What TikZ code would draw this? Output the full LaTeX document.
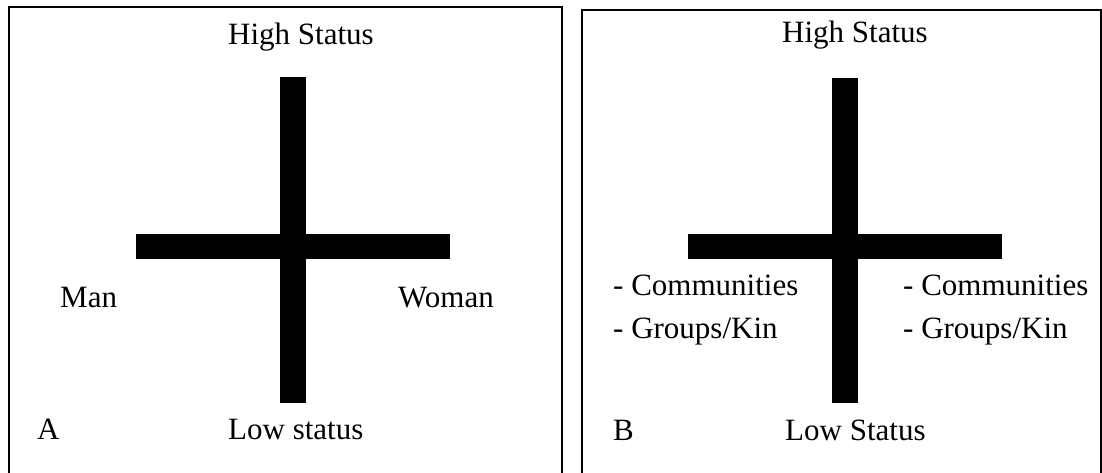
\documentclass[tikz,border=0pt]{standalone}
\usepackage{fontspec}
\setmainfont{Liberation Serif}
\begin{document}
\begin{tikzpicture}[x=1pt,y=-1pt,
  panel/.style={draw=black,line width=2pt},
  bar/.style={fill=black},
  lbl/.style={inner sep=0pt,anchor=base west,font=\fontsize{31}{43}\selectfont},
  lblr/.style={lbl,anchor=base east},
  list/.style={lbl,align=left}]
\useasboundingbox (0,0) rectangle (1102,473);
\clip (0,0) rectangle (1102,473);
\fill[white] (0,0) rectangle (1102,473);

% panel A: sex axis against status axis
\draw[panel] (9,7) rectangle (562,490);
\fill[bar] (280,77) rectangle (306,403);
\fill[bar] (136,234) rectangle (450,259);
\node[lbl] (hsA) at (228,45) {High Status};
\node[lbl] (man) at (60,307) {Man};
\node[lbl] (woman) at (398,307) {Woman};
\node[lbl] (lsA) at (228,439) {Low status};
\node[lbl] (tagA) at (37,439) {A};

% panel B: social units against status axis
\draw[panel] (582,10) rectangle (1101,490);
\fill[bar] (832,78) rectangle (858,403);
\fill[bar] (688,234) rectangle (1002,259);
\node[lbl] (hsB) at (782,43) {High Status};
\node[lbl] (cl1) at (613,295) {- Communities};
\node[lbl] (cl2) at (613,338) {- Groups/Kin};
\node[lbl] (cr1) at (903,295) {- Communities};
\node[lbl] (cr2) at (903,338) {- Groups/Kin};
\node[lbl] (lsB) at (785,440) {Low Status};
\node[lbl] (tagB) at (613,440) {B};
\end{tikzpicture}
\end{document}
